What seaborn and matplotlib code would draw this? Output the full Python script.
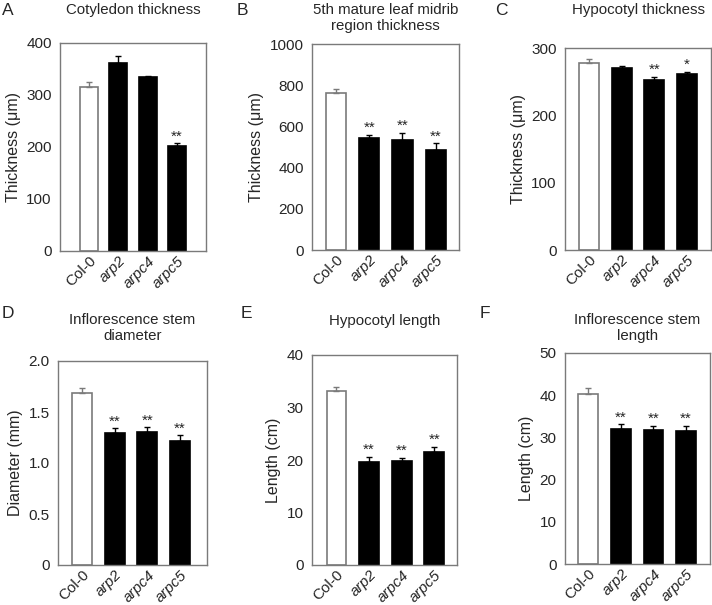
import numpy as np
import pandas as pd
import matplotlib
matplotlib.use('Agg')
import matplotlib.pyplot as plt
import matplotlib.transforms as mtransforms
import seaborn as sns

sns.set_style('white')
plt.rcParams['font.family'] = ['Liberation Sans', 'DejaVu Sans']

# donnees
genotypes = ['Col-0', 'arp2', 'arpc4', 'arpc5']

cot_thick = [315, 361, 334, 202]
cot_err = [10, 14, 2, 5]
cot_stars = ['', '', '', '**']

leaf_thick = [760, 542, 535, 485]
leaf_err = [20, 17, 35, 32]
leaf_stars = ['', '**', '**', '**']

hyp_thick = [278, 270, 253, 262]
hyp_err = [5, 3, 4, 2]
hyp_stars = ['', '', '**', '*']

stem_diam = [1.69, 1.29, 1.30, 1.22]
stem_diam_err = [0.05, 0.05, 0.05, 0.05]
stem_diam_stars = ['', '**', '**', '**']

hyp_len = [33.2, 19.7, 19.8, 21.6]
hyp_len_err = [0.7, 0.9, 0.6, 0.9]
hyp_len_stars = ['', '**', '**', '**']

stem_len = [40.4, 32.0, 31.7, 31.6]
stem_len_err = [1.2, 1.1, 1.1, 1.1]
stem_len_stars = ['', '**', '**', '**']

W, H = 712, 605
fig = plt.figure(figsize=(W / 100, H / 100), dpi=100)

grey = '#7a7a7a'
shift = mtransforms.ScaledTranslation(5 / 100, 0, fig.dpi_scale_trans)

def panel(px, vals, errs, stars, ylim, yticks, ylabs_txt, ylab, title, letter, xlim, title_y, letter_xy):
    l, t, r, b = px
    ax = fig.add_axes([l / W, 1 - b / H, (r - l) / W, (b - t) / H])
    df = pd.DataFrame({'g': genotypes, 'v': vals})
    sns.barplot(data=df, x='g', y='v', hue='g', palette=['white', 'black', 'black', 'black'],
                width=0.61, legend=False, ax=ax, linewidth=1.2)
    for i, p in enumerate(ax.patches):
        p.set_edgecolor(grey if i == 0 else 'black')
    for i in range(4):
        c = grey if i == 0 else 'black'
        ax.errorbar(i, vals[i], yerr=[[0], [errs[i]]], fmt='none', ecolor=c,
                    elinewidth=1, capsize=2.5, capthick=1, zorder=1)
        if stars[i]:
            ax.annotate(stars[i], (i, vals[i] + errs[i]), xytext=(0, 0), textcoords='offset points',
                        ha='center', va='bottom', fontsize=11)
    ax.set_xlim(*xlim)
    ax.set_ylim(*ylim)
    ax.set_yticks(yticks)
    ax.set_yticklabels(ylabs_txt)
    ax.set_xlabel('')
    ax.set_ylabel(ylab, fontsize=11.5, labelpad=4)
    ax.set_xticks(range(4))
    ax.set_xticklabels(genotypes, rotation=45, ha='right', rotation_mode='anchor', fontsize=11)
    for k, lab in enumerate(ax.get_xticklabels()):
        lab.set_transform(lab.get_transform() + shift)
        if k > 0:
            lab.set_style('italic')
    ax.tick_params(axis='y', direction='out', length=4, width=1, color=grey, labelsize=11, pad=2)
    ax.tick_params(axis='x', length=0, pad=2)
    for s in ax.spines.values():
        s.set_color(grey)
        s.set_linewidth(1)
        s.set_visible(True)
    cx = (l + r) / 2 / W
    fig.text(cx, 1 - title_y / H, title, ha='center', va='top', fontsize=10.8, linespacing=1.2)
    fig.text(letter_xy[0] / W, 1 - letter_xy[1] / H, letter, ha='left', va='top', fontsize=12.5)
    return ax

panel((60, 43, 206, 251), cot_thick, cot_err, cot_stars, (0, 400), [0, 100, 200, 300, 400],
      ['0', '100', '200', '300', '400'],
      'Thickness (\u03bcm)', 'Cotyledon thickness', 'A', (-1, 4), 3, (2, 3))
panel((312, 44, 459, 250), leaf_thick, leaf_err, leaf_stars, (0, 1000), [0, 200, 400, 600, 800, 1000],
      ['0', '200', '400', '600', '800', '1000'],
      'Thickness (\u03bcm)', '5th mature leaf midrib\nregion thickness', 'B', (-0.72, 3.7), 3, (237, 3))
panel((565, 48, 711, 250), hyp_thick, hyp_err, hyp_stars, (0, 300), [0, 100, 200, 300],
      ['0', '100', '200', '300'],
      'Thickness (\u03bcm)', 'Hypocotyl thickness', 'C', (-0.74, 3.74), 3, (495, 3))
panel((58, 361, 207, 565), stem_diam, stem_diam_err, stem_diam_stars, (0, 2.0), [0, 0.5, 1.0, 1.5, 2.0],
      ['0', '0.5', '1.0', '1.5', '2.0'],
      'Diameter (mm)', 'Inflorescence stem\ndiameter', 'D', (-0.73, 3.82), 313, (2, 306))
panel((312, 355, 457, 565), hyp_len, hyp_len_err, hyp_len_stars, (0, 40), [0, 10, 20, 30, 40],
      ['0', '10', '20', '30', '40'],
      'Length (cm)', 'Hypocotyl length', 'E', (-0.75, 3.7), 314, (241, 306))
panel((565, 353, 710, 564), stem_len, stem_len_err, stem_len_stars, (0, 50), [0, 10, 20, 30, 40, 50],
      ['0', '10', '20', '30', '40', '50'],
      'Length (cm)', 'Inflorescence stem\nlength', 'F', (-0.72, 3.74), 313, (480, 306))

fig.savefig('out.png', dpi=100)
